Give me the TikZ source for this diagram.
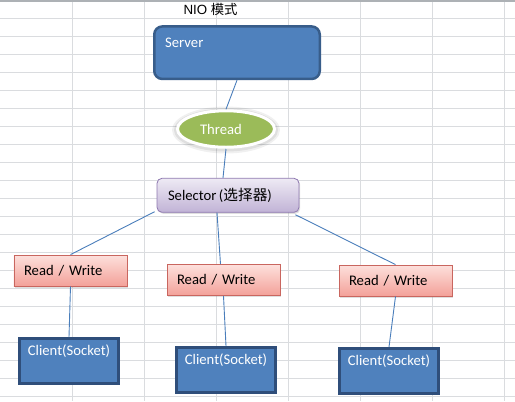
\documentclass[tikz,border=0pt]{standalone}
\usepackage{fontspec}
\setmainfont{Carlito}
\newfontfamily\cjk{Noto Sans CJK SC}
\newfontfamily\arialf{Liberation Sans}
\usetikzlibrary{shapes.geometric,shadows,calc}
\definecolor{gridc}{HTML}{DADCDF}
\definecolor{topc}{HTML}{ADB1B5}
\definecolor{blueF}{HTML}{4F81BD}
\definecolor{srvB}{HTML}{385D8A}
\definecolor{cliB}{HTML}{2F4E7A}
\definecolor{thrF}{HTML}{9BBB59}
\definecolor{selT}{HTML}{EEEAF4}
\definecolor{selB}{HTML}{C1B3D6}
\definecolor{selD}{HTML}{8E78B0}
\definecolor{rwT}{HTML}{FDE0DC}
\definecolor{rwB}{HTML}{F3A199}
\definecolor{rwD}{HTML}{C9665F}
\definecolor{lineC}{HTML}{4A7EBB}
\begin{document}
\begin{tikzpicture}[x=1bp,y=-1bp,font=\fontsize{14.67bp}{17bp}\selectfont,
  srvbox/.style={draw=srvB, line width=2.5bp, fill=blueF, rounded corners=8bp,
    minimum width=165.5bp, minimum height=52.5bp, inner sep=0pt},
  clibox/.style={draw=cliB, line width=3bp, fill=blueF,
    minimum width=99bp, minimum height=45bp, inner sep=0pt},
  wtext/.style={text=white, inner sep=0pt},
  thrnode/.style={ellipse, draw=white, line width=3bp, fill=thrF,
    minimum width=97bp, minimum height=36.5bp, inner sep=0pt},
  selbox/.style={draw=selD, line width=0.8bp, rounded corners=5bp,
    top color=selT, bottom color=selB, minimum width=142bp, minimum height=34bp,
    text width=120bp, inner xsep=11bp, inner ysep=0pt, align=left,
    drop shadow={shadow xshift=1.2bp, shadow yshift=-1.5bp, opacity=0.25}},
  rwbox/.style={draw=rwD, line width=0.8bp,
    top color=rwT, bottom color=rwB, minimum width=113bp, minimum height=31bp,
    text width=93bp, inner xsep=10bp, inner ysep=0pt, align=left,
    drop shadow={shadow xshift=1.2bp, shadow yshift=-1.5bp, opacity=0.25}},
  conn/.style={draw=lineC, line width=0.9bp}
]
\useasboundingbox (0,0) rectangle (515,401);
\fill[white] (0,0) rectangle (515,401);
% spreadsheet grid
\foreach \gx in {72,144,...,504} \draw[gridc, line width=1bp] (\gx,0) -- (\gx,401);
\foreach \gy in {18,36,...,396} \draw[gridc, line width=1bp] (0,\gy) -- (515,\gy);
\draw[topc, line width=2bp] (0,1) -- (515,1);

% title
\node[anchor=base west, inner sep=0pt, font=\fontsize{13.33bp}{15bp}\selectfont] (title) at (183.3,14.5) {\arialf NIO {\cjk 模式}};

% server
\node[srvbox] (srv) at (237,52.7) {};
\node[wtext, anchor=west] (srvt) at (165,43) {Server};

% thread
\fill[black, opacity=0.06] (226,130) ellipse [x radius=54, y radius=23.5];
\fill[black, opacity=0.07] (226,130) ellipse [x radius=52, y radius=21.5];
\node[thrnode] (thr) at (226,129) {};
\node[wtext] (thrt) at (221,129) {Thread};

% selector
\node[selbox] (sel) at (228,195.3) {Selector\,({\cjk 选择器})};

% read / write
\node[rwbox] (rw1) at (70.5,270.5) {Read / Write};
\node[rwbox] (rw2) at (223.5,280) {Read / Write};
\node[rwbox] (rw3) at (395.5,280.5) {Read / Write};

% clients
\node[clibox] (c1) at (69,361) {};
\node[wtext] (c1t) at ($(c1.north)+(0,14.5)$) {Client(Socket)};
\node[clibox] (c2) at (226,370) {};
\node[wtext] (c2t) at ($(c2.north)+(0,14.5)$) {Client(Socket)};
\node[clibox] (c3) at (389,371) {};
\node[wtext] (c3t) at ($(c3.north)+(0,14.5)$) {Client(Socket)};

% connectors
\draw[conn] (srv.south) -- (thr.north);
\draw[conn] (thr.south) -- ($(sel.north)+(-5,0)$);
\draw[conn] ($(sel.south west)+(-2,-1)$) -- (rw1.north);
\draw[conn] ($(sel.south)+(-11,0)$) -- ($(rw2.north)+(-3,0)$);
\draw[conn] ($(sel.south east)+(-4,2)$) -- (rw3.north);
\draw[conn] (rw1.south) -- (c1.north);
\draw[conn] (rw2.south) -- (c2.north);
\draw[conn] (rw3.south) -- (c3.north);
\end{tikzpicture}
\end{document}
